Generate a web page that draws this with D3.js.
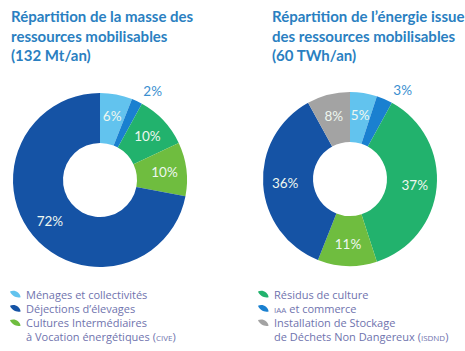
<!DOCTYPE html>
<html><head><meta charset="utf-8">
<script src="https://cdn.jsdelivr.net/npm/d3@7"></script>
<style>
html,body{margin:0;padding:0;background:#fff;}
svg{display:block;}
</style></head>
<body>
<svg id="chart" width="465" height="351"></svg>
<script>
// ---- data ----
const titleLeft = ["Répartition de la masse des", "ressources mobilisables", "(132 Mt/an)"];
const titleRight = ["Répartition de l’énergie issue", "des ressources mobilisables", "(60 TWh/an)"];
const leftCats = ["Ménages et collectivités", "IAA et commerce", "Résidus de culture", "CIVE", "Déjections d'élevages"];
const leftVals = [6, 2, 10, 10, 72];
const rightCats = ["Ménages et collectivités", "IAA et commerce", "Résidus de culture", "CIVE", "Déjections d'élevages", "ISDND"];
const rightVals = [5, 3, 37, 11, 36, 8];
const outsideCats = ["IAA et commerce"];
const colorCats = ["Ménages et collectivités", "IAA et commerce", "Résidus de culture", "CIVE", "Déjections d'élevages", "ISDND"];
const colorVals = ["#62c3ee", "#1a80d0", "#22b26d", "#6fbd3f", "#1553a5", "#a3a3a3"];

const color = d3.scaleOrdinal().domain(colorCats).range(colorVals);
const svg = d3.select("#chart");
const titleColor = "#2a7fc1";
const legendColor = "#6f73ae";

function title(lines, x) {
  const t = svg.append("text").attr("font-family", "Lato, 'Open Sans', sans-serif")
    .attr("font-weight", "bold").attr("font-size", 15).attr("fill", titleColor);
  lines.forEach((l, i) => t.append("tspan").attr("x", x).attr("y", 22 + i * 19.5).text(l));
}
title(titleLeft, 11);
title(titleRight, 272);

function donut(cats, vals, cx, cy) {
  const data = cats.map((c, i) => ({cat: c, val: vals[i]}));
  const pie = d3.pie().value(d => d.val).sort(null);
  const arc = d3.arc().innerRadius(37).outerRadius(87);
  const labelArc = d3.arc().innerRadius(65).outerRadius(65);
  const g = svg.append("g").attr("transform", `translate(${cx},${cy})`);
  const arcs = pie(data);
  g.selectAll("path").data(arcs).join("path")
    .attr("d", arc).attr("fill", d => color(d.data.cat));
  g.selectAll("text").data(arcs).join("text")
    .attr("font-family", "Lato, 'Open Sans', sans-serif")
    .attr("font-size", 13.5)
    .attr("text-anchor", "middle").attr("dominant-baseline", "central")
    .attr("fill", d => outsideCats.includes(d.data.cat) ? "#3a8fd0" : "#eef7f0")
    .attr("transform", d => {
      if (outsideCats.includes(d.data.cat)) {
        const a = d.endAngle, r = 101;
        return `translate(${r * Math.sin(a) + 4},${-r * Math.cos(a)})`;
      }
      return `translate(${labelArc.centroid(d)})`;
    })
    .text(d => d.data.val + "%");
}
donut(leftCats, leftVals, 100, 180);
donut(rightCats, rightVals, 350, 179);

// legends
const legLeft = [
  {cat: "Ménages et collectivités", parts: [["Ménages et collectivités", 11]]},
  {cat: "Déjections d'élevages", parts: [["Déjections d’élevages", 11]]},
  {cat: "CIVE", parts: [["Cultures Intermédiaires", 11]]},
  {cat: null, parts: [["à Vocation énergétiques (", 11], ["CIVE", 8], [")", 11]]}
];
const legRight = [
  {cat: "Résidus de culture", parts: [["Résidus de culture", 11]]},
  {cat: "IAA et commerce", parts: [["IAA", 8], [" et commerce", 11]]},
  {cat: "ISDND", parts: [["Installation de Stockage", 11]]},
  {cat: null, parts: [["de Déchets Non Dangereux (", 11], ["ISDND", 8], [")", 11]]}
];
const leaf = "M0,0 C3,-4 9,-4 12,0 C9,3 3,3 0,0 Z";
function legend(items, x) {
  items.forEach((it, i) => {
    const y = 294.5 + i * 14.3;
    if (it.cat) {
      svg.append("path").attr("d", leaf)
        .attr("transform", `translate(${x - 16},${y - 3}) rotate(28)`)
        .attr("fill", color(it.cat));
    }
    const t = svg.append("text").attr("x", x).attr("y", y + 4)
      .attr("font-family", "'Open Sans', Lato, sans-serif")
      .attr("fill", legendColor);
    it.parts.forEach(p => t.append("tspan").attr("font-size", p[1]).text(p[0]));
  });
}
legend(legLeft, 26);
legend(legRight, 274);
</script>
</body></html>
